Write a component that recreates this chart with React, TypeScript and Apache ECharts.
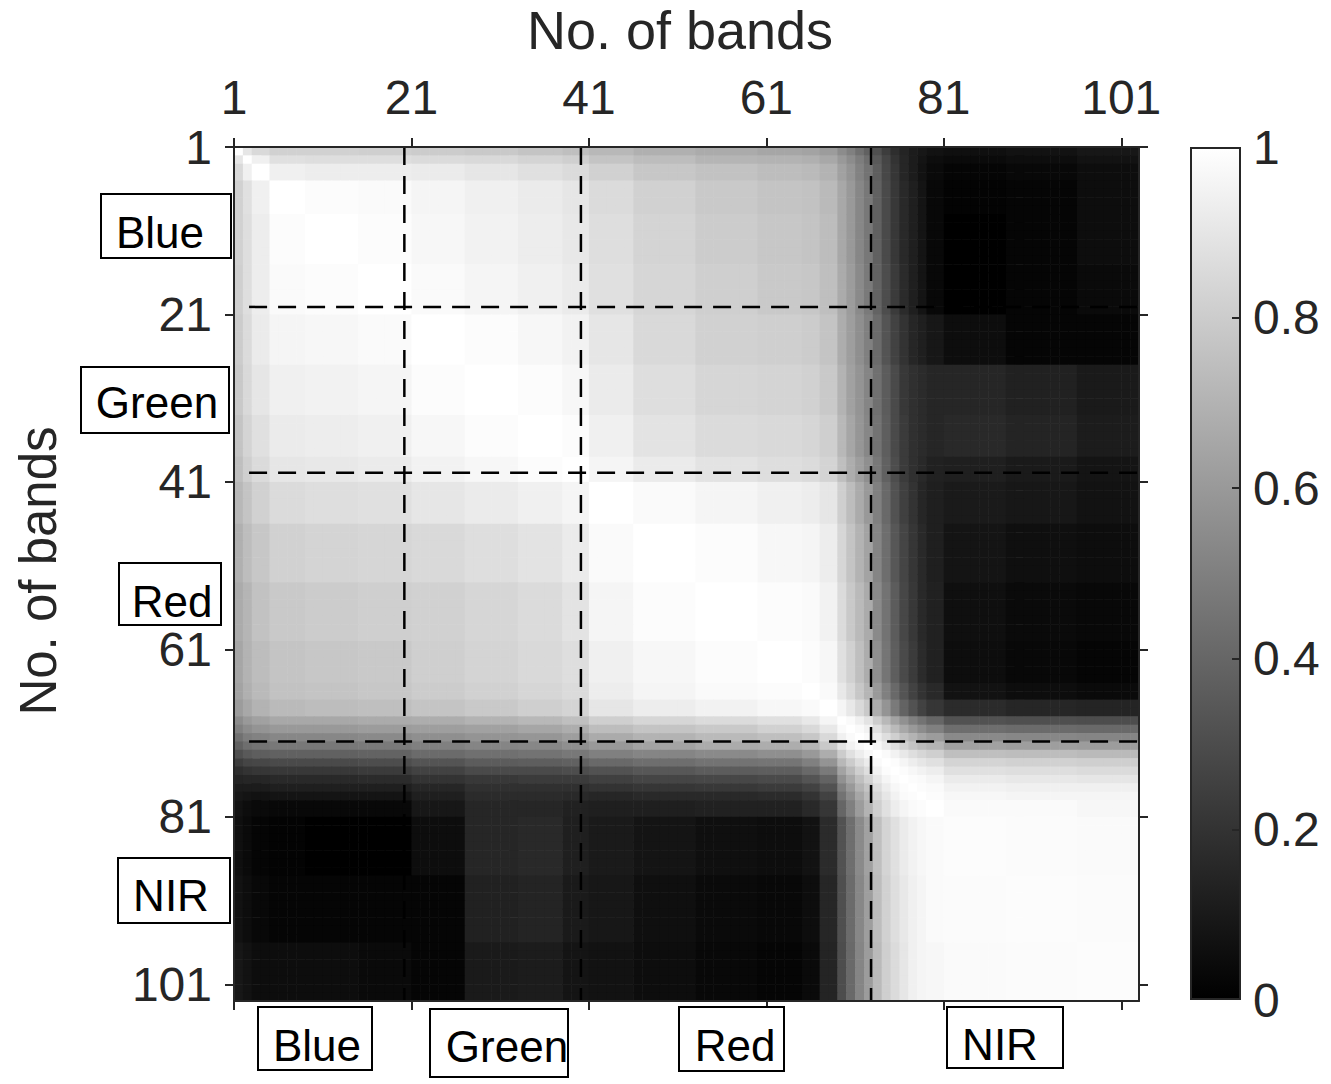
import React, { useEffect, useRef } from "react";
import * as echarts from "echarts";

// ---- data ----
const BAND_TICKS = [1, 21, 41, 61, 81, 101];
const COLORBAR_TICKS = [0, 0.2, 0.4, 0.6, 0.8, 1];
const COLORBAR_INNER_TICKS = [0.2, 0.4, 0.6, 0.8];
const LAST_BAND = 102; // cells 1..102, axis runs 1..103

// first band of each group of bands that share the same grey profile
// groups 0-15: visible bands, 16-26: transition bands, 27-29: NIR bands
const GROUP_START = [1, 2, 3, 5, 9, 15, 21, 27, 33, 38, 41, 46, 53, 60, 65, 67, 69, 70, 71, 72, 73, 74, 75, 76, 77, 78, 79, 81, 88, 96];
const N_VIS = 16;
const N_TRANS = 11;

// visible x visible (upper triangle)
const VIS_VIS: number[][] = [
  [1.0, 0.9, 0.85, 0.82, 0.82, 0.81, 0.8, 0.79, 0.77, 0.75, 0.72, 0.69, 0.67, 0.65, 0.64, 0.61],
  [1.0, 0.94, 0.88, 0.87, 0.87, 0.86, 0.85, 0.83, 0.81, 0.77, 0.74, 0.71, 0.7, 0.69, 0.66],
  [1.0, 0.94, 0.93, 0.93, 0.92, 0.9, 0.88, 0.86, 0.82, 0.78, 0.76, 0.74, 0.73, 0.7],
  [1.0, 0.99, 0.98, 0.96, 0.94, 0.92, 0.9, 0.86, 0.82, 0.79, 0.77, 0.76, 0.73],
  [1.0, 0.99, 0.97, 0.95, 0.93, 0.91, 0.87, 0.83, 0.8, 0.78, 0.77, 0.74],
  [1.0, 0.98, 0.96, 0.94, 0.92, 0.88, 0.84, 0.81, 0.79, 0.78, 0.75],
  [1.0, 0.99, 0.97, 0.95, 0.9, 0.85, 0.82, 0.81, 0.8, 0.77],
  [1.0, 0.99, 0.97, 0.92, 0.87, 0.84, 0.83, 0.82, 0.79],
  [1.0, 0.99, 0.94, 0.89, 0.86, 0.85, 0.84, 0.81],
  [1.0, 0.96, 0.92, 0.89, 0.87, 0.86, 0.83],
  [1.0, 0.98, 0.96, 0.94, 0.93, 0.9],
  [1.0, 0.99, 0.97, 0.96, 0.93],
  [1.0, 0.99, 0.98, 0.95],
  [1.0, 0.99, 0.97],
  [1.0, 0.98],
  [1.0],
];

// visible x transition bands (69, 70, ..., 78, 79-80)
const VIS_TRANS: number[][] = [
  [0.55, 0.5, 0.44, 0.38, 0.31, 0.24, 0.18, 0.14, 0.11, 0.09, 0.07],
  [0.6, 0.55, 0.49, 0.43, 0.35, 0.27, 0.2, 0.15, 0.11, 0.08, 0.05],
  [0.63, 0.58, 0.51, 0.45, 0.37, 0.28, 0.21, 0.15, 0.11, 0.07, 0.04],
  [0.66, 0.6, 0.53, 0.47, 0.38, 0.29, 0.22, 0.16, 0.12, 0.08, 0.03],
  [0.66, 0.6, 0.53, 0.47, 0.38, 0.29, 0.22, 0.16, 0.12, 0.08, 0.03],
  [0.67, 0.61, 0.54, 0.48, 0.39, 0.3, 0.23, 0.17, 0.12, 0.08, 0.03],
  [0.68, 0.62, 0.56, 0.5, 0.42, 0.33, 0.26, 0.2, 0.15, 0.12, 0.09],
  [0.7, 0.63, 0.58, 0.52, 0.44, 0.36, 0.29, 0.22, 0.19, 0.17, 0.15],
  [0.72, 0.65, 0.59, 0.53, 0.45, 0.37, 0.29, 0.23, 0.19, 0.17, 0.15],
  [0.75, 0.68, 0.62, 0.56, 0.47, 0.38, 0.3, 0.23, 0.19, 0.16, 0.13],
  [0.81, 0.74, 0.67, 0.6, 0.5, 0.41, 0.32, 0.25, 0.2, 0.15, 0.12],
  [0.84, 0.77, 0.7, 0.64, 0.52, 0.43, 0.34, 0.27, 0.21, 0.16, 0.12],
  [0.86, 0.79, 0.73, 0.67, 0.54, 0.45, 0.36, 0.28, 0.22, 0.16, 0.13],
  [0.88, 0.82, 0.75, 0.68, 0.56, 0.46, 0.37, 0.29, 0.23, 0.17, 0.13],
  [0.91, 0.85, 0.78, 0.71, 0.6, 0.5, 0.41, 0.33, 0.26, 0.2, 0.16],
  [0.96, 0.91, 0.85, 0.79, 0.68, 0.58, 0.48, 0.39, 0.32, 0.26, 0.21],
];

// visible x NIR (81-87, 88-95, 96-102)
const VIS_NIR: number[][] = [
  [0.06, 0.07, 0.09],
  [0.04, 0.05, 0.07],
  [0.02, 0.03, 0.05],
  [0.01, 0.02, 0.05],
  [0.0, 0.02, 0.05],
  [0.0, 0.02, 0.04],
  [0.05, 0.02, 0.02],
  [0.15, 0.13, 0.1],
  [0.16, 0.14, 0.11],
  [0.12, 0.1, 0.08],
  [0.1, 0.09, 0.07],
  [0.08, 0.06, 0.05],
  [0.06, 0.04, 0.03],
  [0.05, 0.03, 0.02],
  [0.07, 0.05, 0.04],
  [0.17, 0.15, 0.14],
];

// transition x transition (upper triangle)
const TRANS_TRANS: number[][] = [
  [1.0, 0.98, 0.94, 0.89, 0.8, 0.72, 0.64, 0.57, 0.5, 0.45, 0.4],
  [1.0, 0.98, 0.95, 0.88, 0.8, 0.73, 0.66, 0.6, 0.55, 0.5],
  [1.0, 0.98, 0.93, 0.87, 0.81, 0.75, 0.7, 0.65, 0.61],
  [1.0, 0.97, 0.92, 0.87, 0.82, 0.77, 0.73, 0.7],
  [1.0, 0.98, 0.95, 0.91, 0.87, 0.84, 0.81],
  [1.0, 0.99, 0.96, 0.93, 0.9, 0.88],
  [1.0, 0.99, 0.97, 0.95, 0.93],
  [1.0, 0.99, 0.98, 0.96],
  [1.0, 0.99, 0.98],
  [1.0, 0.99],
  [1.0],
];

// transition x NIR
const TRANS_NIR: number[][] = [
  [0.32, 0.31, 0.3],
  [0.43, 0.42, 0.41],
  [0.54, 0.53, 0.52],
  [0.63, 0.62, 0.61],
  [0.75, 0.74, 0.73],
  [0.83, 0.82, 0.81],
  [0.88, 0.87, 0.86],
  [0.92, 0.91, 0.9],
  [0.95, 0.94, 0.94],
  [0.97, 0.96, 0.96],
  [0.98, 0.98, 0.97],
];

// NIR x NIR (upper triangle)
const NIR_NIR: number[][] = [
  [0.99, 0.985, 0.98],
  [0.99, 0.985],
  [0.99],
];

// region boundaries drawn as dashed lines (band units)
const BOUNDARY_V = [20.2, 40.1, 72.8];
const BOUNDARY_H = [20.1, 39.9, 72.0];

const REGION_NAMES = ["Blue", "Green", "Red", "NIR"];

// ---- helpers ----
function groupOf(band: number): number {
  let g = 0;
  for (let k = 0; k < GROUP_START.length; k++) if (band >= GROUP_START[k]) g = k;
  return g;
}
function corr(a: number, b: number): number {
  const i = Math.min(a, b);
  const j = Math.max(a, b);
  const T0 = N_VIS;
  const N0 = N_VIS + N_TRANS;
  if (j < T0) return VIS_VIS[i][j - i];
  if (i < T0 && j < N0) return VIS_TRANS[i][j - T0];
  if (i < T0) return VIS_NIR[i][j - N0];
  if (j < N0) return TRANS_TRANS[i - T0][j - i];
  if (i < N0) return TRANS_NIR[i - T0][j - N0];
  return NIR_NIR[i - N0][j - i];
}

const cells: number[][] = [];
for (let yb = 1; yb <= LAST_BAND; yb++) {
  for (let xb = 1; xb <= LAST_BAND; xb++) {
    cells.push([xb, yb, corr(groupOf(xb), groupOf(yb))]);
  }
}

const AX = "#262626";
const FONT = "Liberation Sans, Arial, Helvetica, sans-serif";

const LEFT_BOXES = [
  { name: REGION_NAMES[0], rect: [101, 194, 130, 64], text: [160, 232] },
  { name: REGION_NAMES[1], rect: [81, 367, 148, 66], text: [157, 402] },
  { name: REGION_NAMES[2], rect: [119, 563, 102, 62], text: [172, 601] },
  { name: REGION_NAMES[3], rect: [118, 858, 112, 65], text: [171, 895] },
];
const BOTTOM_BOXES = [
  { name: REGION_NAMES[0], rect: [258, 1007, 114, 63], text: [317, 1045] },
  { name: REGION_NAMES[1], rect: [430, 1009, 138, 68], text: [507, 1046] },
  { name: REGION_NAMES[2], rect: [679, 1007, 105, 64], text: [735, 1045] },
  { name: REGION_NAMES[3], rect: [947, 1007, 116, 61], text: [1000, 1044] },
];

function boxGraphics(list: typeof LEFT_BOXES) {
  const out: any[] = [];
  list.forEach((b) => {
    out.push({
      type: "rect",
      shape: { x: b.rect[0], y: b.rect[1], width: b.rect[2], height: b.rect[3] },
      style: { fill: "#ffffff", stroke: "#000000", lineWidth: 2 },
      z: 20,
    });
    out.push({
      type: "text",
      x: b.text[0],
      y: b.text[1],
      style: {
        text: b.name,
        fontSize: 44,
        fontFamily: FONT,
        fill: "#000000",
        align: "center",
        verticalAlign: "middle",
      },
      z: 21,
    });
  });
  return out;
}

function bandAxis(extra: any) {
  return {
    type: "value",
    min: 1,
    max: 103,
    z: 10,
    gridIndex: 0,
    axisLine: { show: true, onZero: false, lineStyle: { color: AX, width: 2 } },
    axisTick: { show: true, inside: false, length: 9, customValues: BAND_TICKS, lineStyle: { color: AX, width: 2 } },
    splitLine: { show: false },
    ...extra,
  };
}

const labelStyle = { fontSize: 48, fontFamily: FONT, color: AX };

const dashStyle = { color: "#000000", width: 2.5, type: [18, 11] };
const dashSeries: any[] = [
  ...BOUNDARY_V.map((v) => ({
    type: "line",
    xAxisIndex: 0,
    yAxisIndex: 0,
    data: [
      [v, 1],
      [v, 103],
    ],
    symbol: "none",
    clip: false,
    silent: true,
    z: 5,
    lineStyle: dashStyle,
  })),
  ...BOUNDARY_H.map((h) => ({
    type: "line",
    xAxisIndex: 0,
    yAxisIndex: 0,
    data: [
      [2.7, h],
      [104, h],
    ],
    symbol: "none",
    clip: false,
    silent: true,
    z: 5,
    lineStyle: dashStyle,
  })),
];

const option: any = {
  animation: false,
  backgroundColor: "#ffffff",
  grid: [
    { left: 234, top: 147, width: 905, height: 854 },
    { left: 1190, top: 147, width: 51, height: 853 },
  ],
  xAxis: [
    bandAxis({
      position: "top",
      axisLabel: { show: true, customValues: BAND_TICKS, margin: 26, ...labelStyle },
    }),
    bandAxis({ position: "bottom", axisLabel: { show: false } }),
    { type: "category", gridIndex: 1, data: [""], show: false },
  ],
  yAxis: [
    bandAxis({
      position: "left",
      inverse: true,
      axisLabel: { show: true, customValues: BAND_TICKS, margin: 22, ...labelStyle },
    }),
    bandAxis({ position: "right", inverse: true, axisLabel: { show: false } }),
    {
      type: "value",
      gridIndex: 1,
      min: 0,
      max: 1,
      position: "right",
      z: 10,
      axisLine: { show: false },
      axisTick: { show: true, inside: true, length: 9, customValues: COLORBAR_INNER_TICKS, lineStyle: { color: AX, width: 2 } },
      axisLabel: { show: true, customValues: COLORBAR_TICKS, margin: 12, ...labelStyle },
      splitLine: { show: false },
    },
  ],
  visualMap: [
    {
      type: "continuous",
      show: false,
      min: 0,
      max: 1,
      dimension: 2,
      seriesIndex: 0,
      inRange: { color: ["#000000", "#ffffff"] },
    },
  ],
  series: [
    {
      type: "custom",
      xAxisIndex: 0,
      yAxisIndex: 0,
      data: cells,
      clip: true,
      silent: true,
      z: 1,
      encode: { x: 0, y: 1 },
      renderItem: (params: any, api: any) => {
        const x = api.value(0);
        const y = api.value(1);
        const p1 = api.coord([x, y]);
        const p2 = api.coord([x + 1, y + 1]);
        return {
          type: "rect",
          shape: {
            x: Math.min(p1[0], p2[0]),
            y: Math.min(p1[1], p2[1]),
            width: Math.abs(p2[0] - p1[0]) + 0.6,
            height: Math.abs(p2[1] - p1[1]) + 0.6,
          },
          style: { fill: api.visual("color") },
        };
      },
    },
    ...dashSeries,
    {
      type: "bar",
      xAxisIndex: 2,
      yAxisIndex: 2,
      data: [1],
      barWidth: "100%",
      silent: true,
      itemStyle: {
        color: new echarts.graphic.LinearGradient(0, 0, 0, 1, [
          { offset: 0, color: "#ffffff" },
          { offset: 1, color: "#000000" },
        ]),
        borderColor: AX,
        borderWidth: 2,
      },
    },
  ],
  graphic: [
    {
      type: "text",
      x: 680,
      y: 30,
      style: {
        text: "No. of bands",
        fontSize: 54,
        fontFamily: FONT,
        fill: AX,
        align: "center",
        verticalAlign: "middle",
      },
    },
    {
      type: "text",
      x: 38,
      y: 571,
      rotation: Math.PI / 2,
      style: {
        text: "No. of bands",
        fontSize: 51,
        fontFamily: FONT,
        fill: AX,
        align: "center",
        verticalAlign: "middle",
      },
    },
    ...boxGraphics(LEFT_BOXES),
    ...boxGraphics(BOTTOM_BOXES),
  ],
};

export default function App() {
  const ref = useRef<HTMLDivElement>(null);
  useEffect(() => {
    if (!ref.current) return;
    const chart = echarts.init(ref.current, null, { renderer: "svg" });
    chart.setOption(option);
    return () => {
      chart.dispose();
    };
  }, []);
  return (
    <div
      ref={ref}
      style={{ position: "fixed", left: 0, top: 0, width: 1331, height: 1084, background: "#ffffff" }}
    />
  );
}
